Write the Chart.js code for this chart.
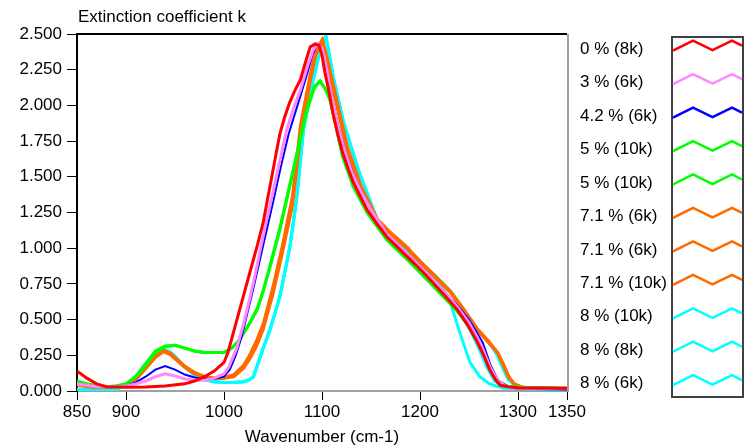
<!DOCTYPE html>
<html><head><meta charset="utf-8">
<script src="https://cdn.jsdelivr.net/npm/chart.js@4.4.1/dist/chart.umd.min.js"></script>
<style>html,body{margin:0;padding:0;background:#fff;overflow:hidden}canvas{display:block}</style>
</head><body><canvas id="c" width="745" height="447"></canvas>
<script>
// ---- data: [wavenumber (cm-1), extinction coefficient k]
const yTitle = 'Extinction coefficient k';
const xTitle = 'Wavenumber (cm-1)';
const xTickValues = [850, 900, 1000, 1100, 1200, 1300, 1350];
const seriesLabels = ['0 % (8k)', '3 % (6k)', '4.2 % (6k)', '5 % (10k)', '5 % (10k)', '7.1 % (6k)', '7.1 % (6k)', '7.1 % (10k)', '8 % (10k)', '8 % (8k)', '8 % (6k)'];
const seriesColors = ['#ff0000', '#ff88ff', '#0000ff', '#00ff00', '#00ff00', '#ff6a00', '#ff6a00', '#ff6a00', '#00ffff', '#00ffff', '#00ffff'];

const k0_8k = [[850,0.14],[860,0.09],[870,0.05],[880,0.03],[890,0.028],[900,0.027],[920,0.028],[940,0.035],[960,0.05],[970,0.07],[980,0.1],[990,0.14],[1000,0.2],[1004,0.27],[1010,0.42],[1016,0.57],[1022,0.72],[1028,0.87],[1034,1.02],[1040,1.18],[1046,1.4],[1052,1.62],[1057,1.8],[1062,1.92],[1067,2.02],[1072,2.1],[1078,2.18],[1083,2.3],[1088,2.41],[1093,2.43],[1097,2.42],[1100,2.35],[1103,2.23],[1107,2.1],[1111,1.95],[1116,1.8],[1121,1.67],[1127,1.55],[1132,1.46],[1140,1.35],[1146,1.27],[1155,1.18],[1166,1.08],[1178,1.0],[1190,0.92],[1202,0.84],[1213,0.76],[1225,0.67],[1238,0.57],[1248,0.47],[1258,0.35],[1265,0.25],[1271,0.15],[1277,0.08],[1282,0.04],[1290,0.03],[1300,0.022],[1350,0.02]];
const k3_6k = [[850,0.05],[860,0.04],[870,0.03],[880,0.03],[890,0.03],[900,0.035],[910,0.05],[920,0.07],[930,0.1],[940,0.12],[950,0.105],[960,0.085],[970,0.075],[980,0.075],[990,0.09],[1000,0.12],[1005,0.17],[1013,0.3],[1020,0.47],[1026,0.64],[1032,0.82],[1037,0.99],[1042,1.15],[1047,1.3],[1055,1.55],[1064,1.83],[1071,1.98],[1078,2.11],[1085,2.27],[1091,2.39],[1096,2.43],[1100,2.4],[1104,2.28],[1110,2.05],[1116,1.86],[1122,1.71],[1130,1.54],[1140,1.39],[1150,1.27],[1166,1.1],[1190,0.94],[1213,0.78],[1238,0.59],[1250,0.48],[1258,0.38],[1265,0.28],[1272,0.16],[1280,0.07],[1288,0.03],[1300,0.02],[1350,0.02]];
const k42_6k = [[880,0.03],[890,0.03],[900,0.035],[910,0.06],[920,0.1],[930,0.15],[940,0.175],[950,0.15],[960,0.115],[970,0.095],[980,0.085],[990,0.085],[1000,0.1],[1006,0.15],[1012,0.25],[1018,0.38],[1024,0.55],[1030,0.72],[1036,0.9],[1042,1.08],[1050,1.32],[1058,1.57],[1066,1.8],[1075,2.0],[1084,2.2],[1090,2.35],[1095,2.43],[1099,2.4],[1104,2.28],[1110,2.06],[1116,1.87],[1122,1.72],[1130,1.55],[1140,1.39],[1150,1.27],[1166,1.1],[1190,0.94],[1213,0.78],[1238,0.6],[1250,0.5],[1264,0.34],[1272,0.18],[1280,0.07],[1290,0.03],[1300,0.015],[1350,0.01]];
const k5_10kA = [[850,0.07],[860,0.05],[870,0.035],[880,0.03],[890,0.035],[900,0.05],[910,0.1],[920,0.18],[930,0.27],[940,0.31],[950,0.32],[960,0.3],[970,0.28],[980,0.27],[990,0.27],[1000,0.27],[1008,0.3],[1016,0.36],[1025,0.46],[1034,0.57],[1040,0.7],[1047,0.87],[1057,1.13],[1064,1.34],[1074,1.64],[1084,1.95],[1092,2.12],[1098,2.17],[1103,2.12],[1108,2.05],[1115,1.83],[1121,1.64],[1132,1.43],[1146,1.25],[1166,1.06],[1190,0.9],[1213,0.74],[1238,0.56],[1250,0.45],[1258,0.36],[1265,0.26],[1272,0.15],[1280,0.07],[1290,0.03],[1310,0.025],[1350,0.02]];
const k5_10kB = [[850,0.065],[860,0.05],[870,0.035],[880,0.03],[890,0.035],[900,0.05],[910,0.1],[920,0.19],[930,0.28],[940,0.315],[950,0.32],[960,0.3],[970,0.28],[980,0.27],[990,0.27],[1000,0.27],[1008,0.3],[1016,0.36],[1025,0.46],[1034,0.58],[1040,0.7],[1047,0.88],[1057,1.14],[1064,1.35],[1074,1.65],[1084,1.96],[1092,2.13],[1098,2.17],[1103,2.12],[1108,2.04],[1115,1.83],[1121,1.65],[1132,1.44],[1146,1.25],[1166,1.06],[1190,0.9],[1213,0.74],[1238,0.56],[1250,0.45],[1258,0.36],[1265,0.26],[1272,0.15],[1280,0.07],[1290,0.03],[1310,0.025],[1350,0.02]];
const k71_6kA = [[850,0.05],[860,0.035],[870,0.025],[880,0.025],[890,0.03],[900,0.04],[910,0.08],[920,0.16],[930,0.24],[938,0.28],[945,0.26],[950,0.23],[960,0.17],[970,0.125],[980,0.1],[990,0.09],[1000,0.09],[1010,0.11],[1020,0.17],[1026,0.24],[1033,0.33],[1040,0.45],[1050,0.71],[1060,1.01],[1070,1.34],[1078,1.83],[1088,2.2],[1094,2.38],[1100,2.46],[1105,2.32],[1115,2.02],[1125,1.71],[1139,1.43],[1156,1.2],[1170,1.1],[1185,1.01],[1200,0.9],[1215,0.8],[1231,0.69],[1245,0.56],[1258,0.43],[1270,0.34],[1279,0.27],[1285,0.18],[1290,0.1],[1296,0.05],[1305,0.025],[1350,0.015]];
const k71_6kB = [[850,0.045],[860,0.035],[870,0.025],[880,0.025],[890,0.03],[900,0.04],[910,0.085],[920,0.165],[930,0.245],[938,0.285],[945,0.265],[950,0.235],[960,0.175],[970,0.13],[980,0.1],[990,0.09],[1000,0.09],[1010,0.1],[1020,0.16],[1026,0.22],[1033,0.31],[1040,0.43],[1050,0.68],[1060,0.98],[1070,1.3],[1078,1.78],[1088,2.17],[1094,2.36],[1101,2.45],[1106,2.31],[1116,2.01],[1126,1.71],[1140,1.43],[1157,1.2],[1170,1.11],[1185,1.02],[1200,0.91],[1215,0.81],[1231,0.7],[1245,0.57],[1258,0.44],[1270,0.35],[1280,0.26],[1286,0.17],[1291,0.09],[1297,0.045],[1305,0.025],[1350,0.015]];
const k71_10k = [[850,0.04],[860,0.03],[870,0.025],[880,0.025],[890,0.03],[900,0.04],[910,0.08],[920,0.155],[930,0.235],[938,0.275],[945,0.255],[950,0.225],[960,0.165],[970,0.12],[980,0.1],[990,0.09],[1000,0.095],[1010,0.115],[1020,0.18],[1026,0.25],[1033,0.35],[1040,0.47],[1050,0.73],[1060,1.03],[1070,1.37],[1078,1.86],[1088,2.22],[1094,2.39],[1100,2.45],[1105,2.3],[1115,2.0],[1125,1.7],[1139,1.42],[1156,1.19],[1170,1.1],[1185,1.01],[1200,0.9],[1215,0.8],[1231,0.69],[1245,0.56],[1258,0.43],[1270,0.34],[1279,0.27],[1285,0.19],[1290,0.11],[1296,0.05],[1305,0.025],[1350,0.015]];
const k8_10k = [[850,0.01],[870,0.01],[890,0.012],[900,0.04],[910,0.1],[920,0.19],[930,0.27],[938,0.295],[945,0.275],[950,0.245],[960,0.17],[970,0.11],[980,0.08],[990,0.065],[1000,0.06],[1010,0.06],[1020,0.065],[1025,0.075],[1030,0.1],[1035,0.2],[1040,0.3],[1047,0.43],[1057,0.66],[1067,1.0],[1074,1.34],[1081,1.83],[1091,2.18],[1098,2.38],[1104,2.49],[1112,2.18],[1122,1.88],[1137,1.55],[1157,1.18],[1175,1.04],[1200,0.87],[1220,0.72],[1231,0.62],[1241,0.4],[1251,0.2],[1261,0.1],[1271,0.05],[1285,0.02],[1350,0.01]];
const k8_8k = [[850,0.01],[870,0.01],[890,0.012],[900,0.04],[910,0.1],[920,0.19],[930,0.27],[938,0.29],[945,0.27],[950,0.24],[960,0.17],[970,0.11],[980,0.08],[990,0.065],[1000,0.06],[1010,0.06],[1020,0.065],[1025,0.075],[1030,0.1],[1035,0.2],[1040,0.3],[1047,0.43],[1057,0.66],[1067,1.0],[1074,1.34],[1081,1.83],[1091,2.18],[1098,2.38],[1104,2.48],[1112,2.18],[1122,1.88],[1137,1.55],[1157,1.18],[1175,1.05],[1200,0.88],[1220,0.74],[1238,0.58],[1250,0.44],[1260,0.3],[1268,0.17],[1276,0.07],[1285,0.03],[1300,0.02],[1350,0.01]];
const k8_6k = [[850,0.01],[870,0.01],[890,0.012],[900,0.04],[910,0.1],[920,0.19],[930,0.27],[938,0.29],[945,0.27],[950,0.24],[960,0.17],[970,0.11],[980,0.08],[990,0.065],[1000,0.06],[1010,0.06],[1020,0.065],[1025,0.075],[1030,0.1],[1035,0.2],[1040,0.3],[1047,0.43],[1057,0.66],[1067,1.0],[1074,1.34],[1081,1.83],[1091,2.18],[1098,2.38],[1104,2.48],[1112,2.18],[1122,1.88],[1137,1.55],[1157,1.19],[1175,1.07],[1200,0.91],[1215,0.81],[1231,0.7],[1245,0.57],[1258,0.44],[1270,0.34],[1278,0.26],[1285,0.15],[1290,0.08],[1298,0.03],[1310,0.02],[1350,0.01]];

const seriesData = [k0_8k, k3_6k, k42_6k, k5_10kA, k5_10kB, k71_6kA, k71_6kB, k71_10k, k8_10k, k8_8k, k8_6k];
const seriesWidths = [3, 3, 2, 3, 3, 3, 3, 3, 3, 3, 3];

const FONT = '"Liberation Sans", Arial, sans-serif';

const frameAndLegend = {
  id: 'frameAndLegend',
  afterDraw(chart) {
    const ctx = chart.ctx, a = chart.chartArea;
    ctx.save();
    // top and right frame of the plot
    ctx.strokeStyle = '#000'; ctx.lineWidth = 2;
    ctx.beginPath(); ctx.moveTo(a.left - 1, a.top); ctx.lineTo(a.right, a.top); ctx.stroke();
    ctx.strokeStyle = '#a0a0a0'; ctx.lineWidth = 2;
    ctx.beginPath(); ctx.moveTo(a.right + 1, a.top); ctx.lineTo(a.right + 1, a.bottom + 1); ctx.stroke();
    // chart title (y quantity)
    ctx.fillStyle = '#000'; ctx.font = '17px ' + FONT;
    ctx.textAlign = 'left'; ctx.textBaseline = 'middle';
    ctx.fillText(yTitle, 78, 17);
    // legend
    const ds = chart.data.datasets;
    ctx.strokeStyle = '#404040'; ctx.lineWidth = 2;
    ctx.strokeRect(672, 37, 71, 360);
    ds.forEach((d, i) => {
      const cy = 45.7 + i * 33.45;
      ctx.fillStyle = '#000';
      ctx.fillText(d.label, 580, cy + 3.5);
      ctx.strokeStyle = d.borderColor; ctx.lineWidth = 2.5; ctx.lineJoin = 'miter';
      ctx.beginPath();
      ctx.moveTo(673, cy + 5); ctx.lineTo(693, cy - 5); ctx.lineTo(712.5, cy + 4.5);
      ctx.lineTo(732, cy - 5); ctx.lineTo(742, cy);
      ctx.stroke();
    });
    ctx.restore();
  }
};

new Chart(document.getElementById('c'), {
  type: 'line',
  data: {
    datasets: seriesData.map((s, i) => ({
      label: seriesLabels[i],
      data: s.map(p => ({ x: p[0], y: p[1] })),
      borderColor: seriesColors[i],
      backgroundColor: seriesColors[i],
      borderWidth: seriesWidths[i],
      pointRadius: 0,
      tension: 0,
      fill: false
    }))
  },
  options: {
    responsive: false,
    devicePixelRatio: 1,
    animation: false,
    layout: { padding: { left: 0, top: 34, right: 178, bottom: 0 } },
    plugins: { legend: { display: false }, tooltip: { enabled: false }, title: { display: false } },
    scales: {
      x: {
        type: 'linear', min: 850, max: 1350,
        afterBuildTicks: s => { s.ticks = xTickValues.map(v => ({ value: v })); },
        afterFit: s => { s.height = 56; },
        grid: { display: true, drawOnChartArea: false, drawTicks: true, tickLength: 9, color: '#000' },
        border: { display: true, color: '#a0a0a0', width: 2 },
        ticks: { color: '#000', font: { family: FONT, size: 17 }, padding: 2, maxRotation: 0, autoSkip: false, callback: v => String(v) },
        title: { display: true, text: xTitle, color: '#000', font: { family: FONT, size: 17 }, padding: { top: 0, bottom: -1 } }
      },
      y: {
        type: 'linear', min: 0, max: 2.5,
        afterFit: s => { s.width = 77; },
        grid: { display: true, drawOnChartArea: false, drawTicks: true, tickLength: 10, color: '#000' },
        border: { display: true, color: '#000', width: 2 },
        ticks: { stepSize: 0.25, color: '#000', font: { family: FONT, size: 17 }, padding: 5, callback: v => v.toFixed(3) }
      }
    }
  },
  plugins: [frameAndLegend]
});
</script></body></html>
